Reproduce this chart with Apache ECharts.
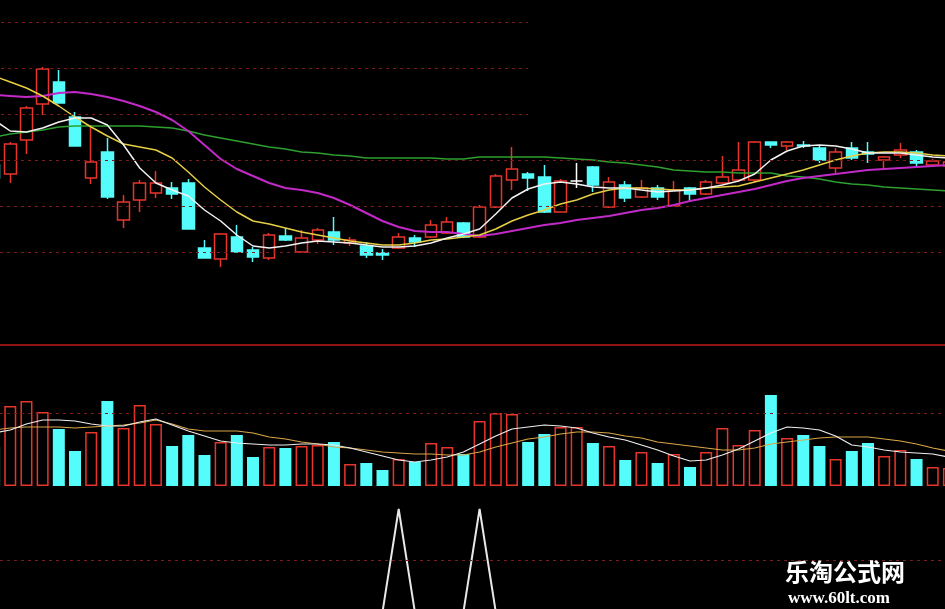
<!DOCTYPE html>
<html><head><meta charset="utf-8">
<script src="https://cdn.jsdelivr.net/npm/echarts@6/dist/echarts.min.js"></script>
<style>html,body{margin:0;padding:0;background:#000;}#c{width:945px;height:609px;}</style>
</head><body><div id="c"></div>
<script>
// candles: [open, close, low, high]
const candles = [
[13.3,12.0,11.8,13.8],[12.4,15.4,11.5,15.6],[15.8,19.0,14.4,19.2],[19.4,22.9,18.3,23.1],[21.6,19.5,19.5,22.8],
[18.1,15.2,15.2,18.6],[12.0,13.6,11.4,17.1],[14.6,10.1,9.9,16.0],[7.8,9.6,7.0,10.3],[9.8,11.5,8.6,11.8],
[10.5,11.5,10.0,12.7],[11.0,10.4,9.9,11.6],[11.5,6.9,6.9,11.9],[5.0,4.0,4.0,5.8],[3.9,6.4,3.1,6.5],
[6.1,4.6,4.6,7.3],[4.8,4.1,3.6,5.1],[4.0,6.3,3.8,6.5],[6.2,5.8,5.7,7.0],[4.6,6.0,4.5,6.8],
[5.8,6.8,5.4,7.0],[6.6,5.8,5.3,8.1],[5.5,5.8,5.2,6.1],[5.2,4.3,4.0,5.6],[4.5,4.3,3.8,4.9],
[5.0,6.1,4.9,6.5],[6.0,5.6,5.1,6.3],[6.1,7.3,6.0,7.8],[6.5,7.6,6.4,8.1],[7.5,6.1,6.0,7.6],
[6.1,9.1,6.0,9.3],[9.1,12.2,9.0,12.4],[11.8,12.9,10.8,15.1],[12.4,12.0,10.7,12.6],[12.1,8.6,8.5,13.3],
[8.6,11.7,8.6,11.9],[11.7,11.7,11.0,13.5],[13.1,11.3,10.6,13.2],[9.1,11.6,9.0,12.1],[11.3,10.0,9.6,11.7],
[10.1,11.0,10.0,11.8],[11.0,10.1,9.8,11.3],[9.2,10.8,9.1,11.7],[11.0,10.4,9.6,11.1],[10.4,11.6,10.3,11.8],
[11.5,12.1,11.3,14.2],[11.8,12.8,11.6,15.6],[11.8,15.6,11.6,15.7],[15.6,15.3,15.0,15.6],[15.2,15.6,14.8,15.7],
[15.3,15.2,15.0,15.7],[15.0,13.8,13.5,15.3],[13.0,14.6,12.5,15.0],[15.0,14.0,13.8,15.6],[14.6,14.4,13.5,15.6],
[13.8,14.1,13.0,14.2],[14.3,14.8,14.0,15.5],[14.6,13.5,13.2,14.8],[13.3,13.7,13.2,13.9],[13.2,13.6,13.1,13.8]
];
const dojiIndex = [36];
const ma5 = [17.8,16.7,16.6,17.0,17.6,18.0,18.0,17.3,15.3,13.0,11.5,10.8,10.2,8.8,7.7,6.3,5.2,5.0,5.2,5.5,5.7,5.6,5.5,5.3,5.1,5.1,5.2,5.5,6.0,6.4,6.9,8.4,10.0,10.9,11.4,11.6,11.4,11.1,11.0,11.0,10.8,10.6,10.7,10.8,11.0,11.3,11.7,12.4,13.8,14.7,15.2,15.3,15.2,14.9,14.5,14.5,14.5,14.3,14.1,14.0];
const ma10 = [22.2,21.6,21.0,20.2,19.2,18.1,17.1,16.2,15.4,15.1,14.8,14.0,12.6,11.1,9.8,8.6,7.7,7.4,7.0,6.6,6.3,6.0,5.7,5.5,5.3,5.3,5.5,5.8,5.9,6.1,6.3,6.9,7.7,8.3,8.8,9.4,9.8,10.4,10.8,11.0,11.0,10.9,10.8,10.8,11.0,11.1,11.2,11.6,12.0,12.4,12.8,13.3,13.8,14.2,14.5,14.6,14.6,14.5,14.3,14.2];
const ma20 = [20.3,20.2,20.1,20.2,20.5,20.6,20.4,20.1,19.7,19.2,18.6,17.8,16.7,15.3,13.9,12.9,12.2,11.5,11.0,10.8,10.5,10.0,9.3,8.5,7.7,7.1,6.7,6.6,6.6,6.4,6.2,6.4,6.7,7.0,7.3,7.5,7.8,8.0,8.2,8.5,8.8,9.0,9.3,9.7,10.0,10.3,10.6,10.9,11.3,11.7,12.0,12.2,12.4,12.6,12.8,12.9,13.0,13.1,13.2,13.3];
const ma60 = [16.1,16.4,16.6,16.8,17.1,17.2,17.2,17.2,17.2,17.2,17.1,17.0,16.7,16.3,16.0,15.7,15.4,15.1,14.9,14.6,14.5,14.3,14.2,14.0,14.0,14.0,14.0,14.0,13.9,13.9,14.1,14.1,14.1,14.1,14.1,14.0,13.9,13.8,13.6,13.5,13.3,13.1,12.8,12.7,12.6,12.6,12.5,12.5,12.5,12.2,12.1,11.9,11.6,11.4,11.3,11.1,11.0,10.9,10.8,10.7];
const volume = [39,80,85,74,57,35,54,85,58,81,62,40,51,31,44,51,29,39,38,40,41,44,22,23,16,27,24,43,39,32,65,73,72,44,52,59,59,43,40,26,34,23,32,19,34,58,41,56,91,48,51,40,27,35,43,30,36,27,19,18];
const volMa5 = [53,56,62,66,66,65,62,60,60,64,67,61,55,50,45,43,42,41,41,42,42,41,38,34,30,26,24,26,29,34,42,50,57,59,61,60,58,53,49,46,41,36,30,25,26,31,37,45,53,59,58,56,50,41,39,36,34,33,32,29];
const volMa10 = [56,58,59,59,59,58,59,60,61,63,66,62,57,55,55,55,53,49,47,44,42,39,38,36,34,33,32,32,31,31,34,39,43,47,49,52,54,54,53,50,48,44,42,40,38,36,36,38,42,44,46,48,49,49,49,47,45,42,38,35];
const signal = [0,0,0,0,0,0,0,0,0,0,0,0,0,0,0,0,0,0,0,0,0,0,0,0,0,100,0,0,0,0,100,0,0,0,0,0,0,0,0,0,0,0,0,0,0,0,0,0,0,0,0,0,0,0,0,0,0,0,0,0];
const priceGridLinesFull = [13.8, 9.2, 4.6];
const priceGridLinesPart = [27.6, 23.0, 18.4];

const RED = '#e8352b', CYAN = '#54fcfc', GRID = '#7a1c1c';
const cats = candles.map((_, i) => String(i));
const candleData = candles.map((c, i) => dojiIndex.includes(i)
  ? {value: c, itemStyle: {color: '#ffffff', color0: '#ffffff', borderColor: '#ffffff', borderColor0: '#ffffff'}}
  : c);
const volData = volume.map((v, i) => {
  const up = candles[i][1] >= candles[i][0];
  return {value: v, itemStyle: up ? {color: '#000', borderColor: RED, borderWidth: 1.5} : {color: CYAN, borderColor: CYAN, borderWidth: 0}};
});
const dashed = {color: GRID, type: [3, 4], width: 1};
const gridBase = {left: -14, width: 971, outerBoundsMode: 'none', containLabel: false};
const xBase = {type: 'category', data: cats, boundaryGap: true, axisLine: {show: false}, axisTick: {show: false}, axisLabel: {show: false}, splitLine: {show: false}};
const yBase = {axisLine: {show: false}, axisTick: {show: false}, axisLabel: {show: false}, splitLine: {show: false}};

const chart = echarts.init(document.getElementById('c'), null, {renderer: 'canvas'});
chart.setOption({
  backgroundColor: '#000',
  animation: false,
  title: [
    {text: '乐淘公式网', left: 780, top: 555, textStyle: {color: '#ffffff', fontSize: 24, fontWeight: 'bold', fontFamily: 'Noto Sans CJK SC'}},
    {text: 'www.60lt.com', left: 783, top: 585, textStyle: {color: '#ffffff', fontSize: 17, fontWeight: 'bold', fontFamily: 'Liberation Serif'}}
  ],
  grid: [
    Object.assign({top: 22, height: 276}, gridBase),
    Object.assign({top: 340, height: 146}, gridBase),
    Object.assign({top: 509, height: 103}, gridBase)
  ],
  xAxis: [0, 1, 2].map(g => Object.assign({gridIndex: g}, xBase)),
  yAxis: [
    Object.assign({gridIndex: 0, type: 'value', min: 0, max: 27.6}, yBase),
    Object.assign({gridIndex: 1, type: 'value', min: 0, max: 146}, yBase),
    Object.assign({gridIndex: 2, type: 'value', min: 0, max: 100}, yBase)
  ],
  series: [
    {type: 'candlestick', xAxisIndex: 0, yAxisIndex: 0, data: candleData, barWidth: 12,
     itemStyle: {color: '#000', color0: CYAN, borderColor: RED, borderColor0: CYAN, borderWidth: 1.5},
     markLine: {silent: true, symbol: 'none', label: {show: false}, lineStyle: dashed,
       data: priceGridLinesFull.map(v => ({yAxis: v})).concat(priceGridLinesPart.map(v => [{coord: ['0', v]}, {coord: ['33', v]}]))}},
    {type: 'line', xAxisIndex: 0, yAxisIndex: 0, data: ma60, symbol: 'none', lineStyle: {color: '#2ea02e', width: 1.5}},
    {type: 'line', xAxisIndex: 0, yAxisIndex: 0, data: ma20, symbol: 'none', lineStyle: {color: '#c22ac8', width: 2}},
    {type: 'line', xAxisIndex: 0, yAxisIndex: 0, data: ma10, symbol: 'none', lineStyle: {color: '#e6cf45', width: 1.5}},
    {type: 'line', xAxisIndex: 0, yAxisIndex: 0, data: ma5, symbol: 'none', lineStyle: {color: '#f2f2f2', width: 1.5}},
    {type: 'bar', xAxisIndex: 1, yAxisIndex: 1, data: volData, barWidth: 12,
     markLine: {silent: true, symbol: 'none', label: {show: false}, lineStyle: {color: '#c01a1a', type: 'solid', width: 1.5, opacity: 1},
       data: [{yAxis: 141}]}},
    {type: 'line', xAxisIndex: 1, yAxisIndex: 1, data: volMa10, symbol: 'none', lineStyle: {color: '#d9a648', width: 1.2},
     markLine: {silent: true, symbol: 'none', label: {show: false}, lineStyle: dashed, data: [{yAxis: 73}]}},
    {type: 'line', xAxisIndex: 1, yAxisIndex: 1, data: volMa5, symbol: 'none', lineStyle: {color: '#eeeeee', width: 1.2}},
    {type: 'line', xAxisIndex: 2, yAxisIndex: 2, data: signal, symbol: 'none', lineStyle: {color: '#e8e8e8', width: 2},
     markLine: {silent: true, symbol: 'none', label: {show: false}, lineStyle: dashed, data: [{yAxis: 50}]}}
  ]
});
</script></body></html>
